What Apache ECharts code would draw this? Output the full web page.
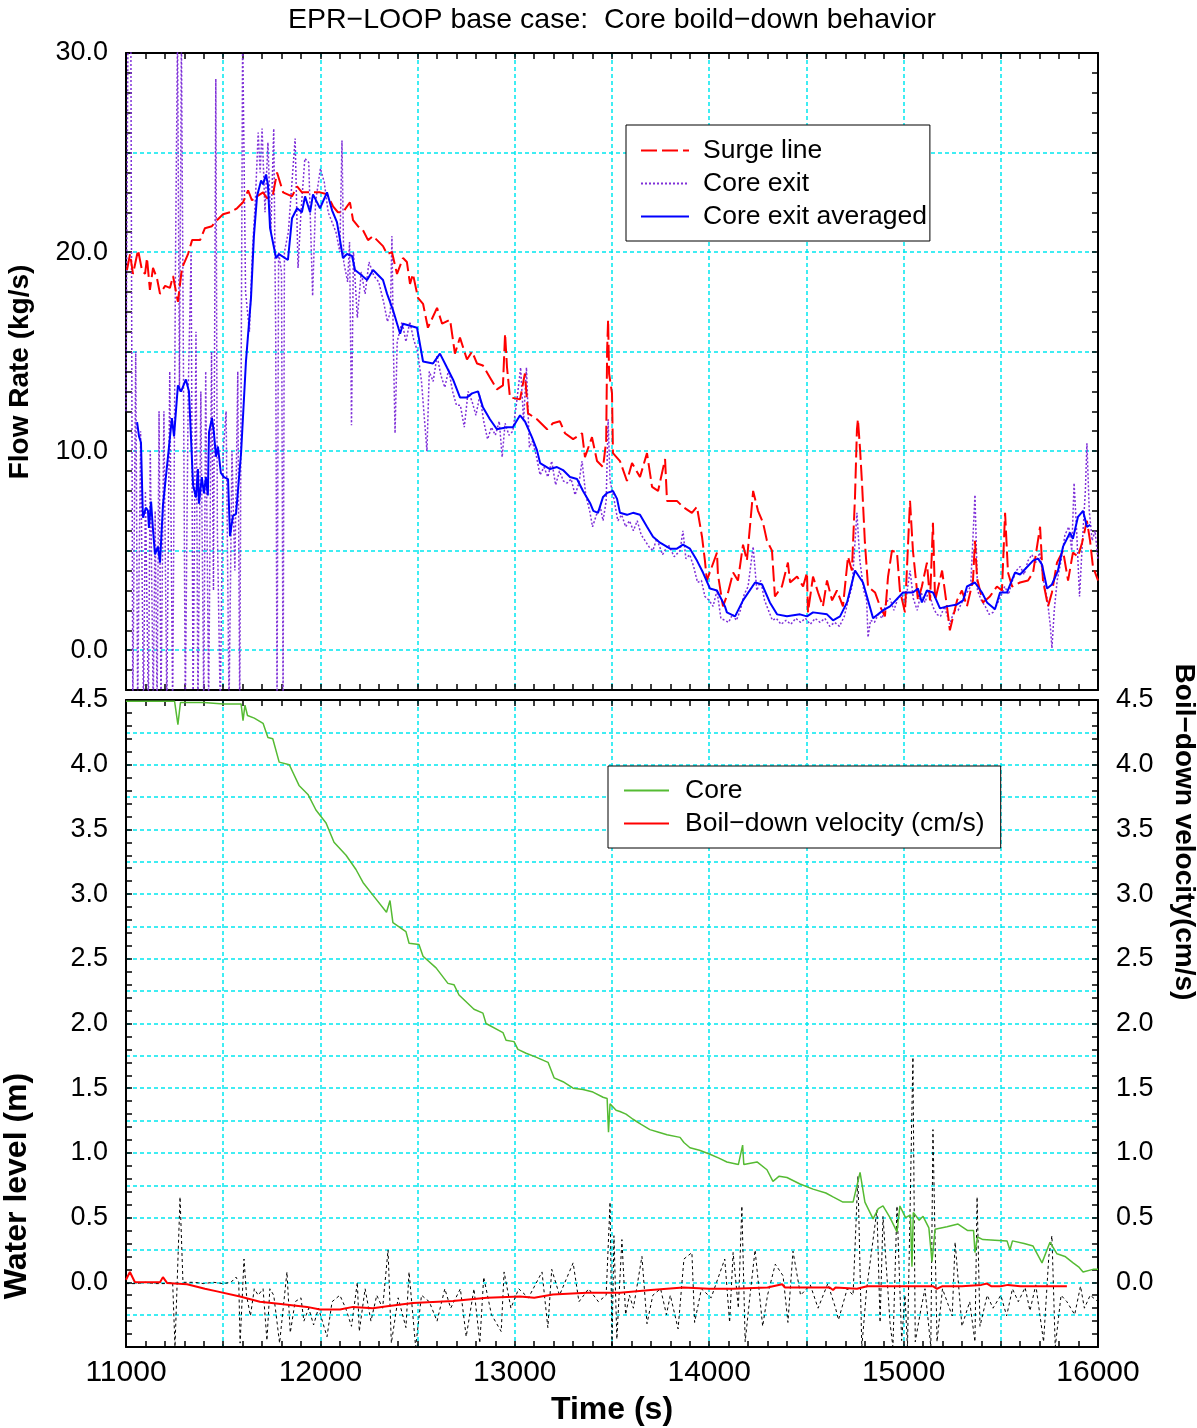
<!DOCTYPE html>
<html><head><meta charset="utf-8">
<script src="https://cdn.jsdelivr.net/npm/echarts@6/dist/echarts.min.js"></script>
<style>html,body{margin:0;padding:0;background:#fff}#c{width:1197px;height:1428px}</style>
</head><body><div id="c"></div>
<script>
// ---------- data ----------
const xTickLabels = [11000, 12000, 13000, 14000, 15000, 16000];
const surgeLine = [[11005,19.1],[11021,19.9],[11036,18.9],[11062,20.1],[11082,19.1],[11098,18.9],[11108,19.7],[11123,18.1],[11139,19.2],[11159,18.7],[11175,17.9],[11201,18.3],[11226,18.2],[11242,18.8],[11267,17.5],[11288,19.2],[11319,19.9],[11340,20.6],[11381,20.6],[11406,21.2],[11442,21.3],[11468,21.6],[11499,21.9],[11535,22.0],[11571,22.2],[11602,22.5],[11628,23.1],[11648,22.6],[11674,22.8],[11705,23.0],[11725,22.7],[11756,22.9],[11777,24.0],[11808,23.0],[11854,22.8],[11880,23.3],[11905,23.0],[11947,23.0],[11998,23.0],[12034,22.9],[12065,22.3],[12090,22.0],[12116,22.0],[12152,22.5],[12168,21.6],[12193,21.3],[12219,21.1],[12245,20.6],[12271,20.8],[12322,20.3],[12343,19.9],[12368,20.0],[12394,18.9],[12425,19.7],[12445,19.5],[12461,18.4],[12476,18.9],[12502,17.7],[12528,17.4],[12553,16.2],[12600,17.2],[12626,16.4],[12667,16.6],[12692,14.9],[12718,15.7],[12754,14.6],[12780,15.0],[12806,14.4],[12836,14.3],[12872,13.7],[12908,13.1],[12939,13.3],[12950,15.9],[12960,14.2],[12975,12.7],[13027,12.6],[13052,13.9],[13068,11.9],[13114,11.6],[13166,11.1],[13196,11.4],[13232,11.5],[13258,10.9],[13300,10.6],[13346,10.9],[13361,9.7],[13397,10.7],[13423,9.5],[13454,9.2],[13470,10.5],[13475,15.1],[13480,16.6],[13485,13.9],[13500,12.9],[13505,9.9],[13541,9.5],[13577,8.5],[13603,9.4],[13644,8.7],[13680,9.9],[13706,8.2],[13737,8.0],[13773,9.6],[13783,7.5],[13834,7.5],[13865,7.2],[13911,6.9],[13937,7.2],[13963,5.7],[13978,4.5],[13988,3.5],[14040,4.9],[14045,3.8],[14071,2.2],[14097,2.9],[14123,3.9],[14148,3.5],[14174,5.3],[14194,4.5],[14226,8.0],[14251,7.0],[14277,6.4],[14297,5.5],[14323,5.0],[14338,2.7],[14374,3.2],[14405,4.4],[14416,3.4],[14452,3.7],[14483,3.2],[14503,3.9],[14508,1.9],[14534,3.7],[14560,2.9],[14585,2.2],[14606,3.5],[14632,2.5],[14657,3.0],[14688,2.2],[14714,4.7],[14734,4.0],[14750,7.7],[14760,11.1],[14765,11.6],[14776,10.1],[14786,8.4],[14801,5.4],[14817,3.2],[14853,2.9],[14879,2.2],[14904,1.7],[14920,3.7],[14940,5.0],[14966,4.9],[14981,3.0],[15007,1.9],[15033,7.5],[15048,5.0],[15074,2.5],[15094,3.2],[15120,4.4],[15136,2.5],[15151,6.4],[15162,2.5],[15198,4.0],[15223,2.2],[15238,1.0],[15275,2.5],[15300,3.0],[15326,2.2],[15357,3.5],[15367,5.5],[15378,3.6],[15408,2.4],[15444,2.7],[15480,3.2],[15506,3.0],[15522,6.9],[15537,3.9],[15558,3.2],[15599,3.4],[15640,3.5],[15666,3.9],[15702,6.2],[15717,3.5],[15743,2.2],[15763,2.9],[15789,4.4],[15820,5.0],[15846,3.5],[15871,4.9],[15897,4.7],[15918,5.4],[15943,6.5],[15959,5.5],[15974,4.2],[16000,3.5]];

const coreExit = [[11000,12],[11010,31],[11025,31],[11035,-3],[11050,15],[11060,-3],[11075,11],[11090,-3],[11100,8],[11115,-3],[11125,10],[11140,-3],[11150,7],[11160,-3],[11170,12],[11180,-3],[11195,12],[11210,-3],[11225,14],[11240,-3],[11255,20],[11265,31],[11275,13],[11285,31],[11295,15],[11305,-3],[11320,13],[11335,20],[11345,-3],[11360,16],[11370,-3],[11385,13],[11400,-3],[11410,14],[11425,-3],[11440,15],[11450,3],[11462,28.7],[11470,6],[11485,-3],[11500,10],[11515,12],[11530,-3],[11545,10],[11560,4],[11575,14],[11585,-3],[11600,31],[11615,18],[11635,16],[11650,20],[11665,22.5],[11680,26],[11690,24],[11700,26.2],[11715,22],[11730,25.5],[11745,21],[11760,26.2],[11770,16],[11777,-3],[11785,20],[11800,19],[11808,-3],[11815,20],[11835,21],[11850,23],[11870,25.7],[11885,19.2],[11900,22],[11920,24.7],[11940,24.5],[11960,17.8],[11975,22.5],[12000,24.2],[12020,23.5],[12040,22],[12060,21.5],[12080,21],[12100,20],[12111,25.6],[12120,19.5],[12140,18.5],[12150,20.5],[12160,11.3],[12170,20],[12190,16.7],[12210,19],[12230,17.9],[12250,19.5],[12275,18.8],[12300,18.5],[12325,17.5],[12345,16.5],[12360,17],[12368,20.8],[12375,15.5],[12384,10.9],[12395,15.5],[12420,16.5],[12440,15.5],[12460,16.5],[12480,15.6],[12500,15],[12520,13.5],[12548,10.0],[12560,14],[12580,13.5],[12600,14.8],[12620,13.8],[12640,13.2],[12660,14.1],[12680,13.0],[12700,12.3],[12720,12.3],[12740,11.2],[12760,13],[12780,12.5],[12800,11.8],[12820,12.8],[12840,11.5],[12860,10.6],[12880,11.2],[12900,10.8],[12920,11.5],[12935,9.7],[12950,11.4],[12970,10.8],[12990,11],[13010,12.5],[13030,14.2],[13045,11.5],[13060,14.2],[13075,10.2],[13090,10.5],[13110,9.8],[13130,8.8],[13150,9.2],[13170,8.7],[13190,9.5],[13210,8.3],[13230,9.0],[13250,8.5],[13270,8.4],[13290,8.6],[13310,7.8],[13330,8.4],[13346,9.5],[13365,7.8],[13385,7.0],[13400,6.2],[13420,6.8],[13440,7.2],[13454,6.5],[13470,7.5],[13480,11.6],[13490,8.5],[13510,7.6],[13530,6.5],[13550,6.8],[13570,6.2],[13590,6.5],[13610,6.0],[13630,6.5],[13650,5.8],[13670,5.5],[13690,5.2],[13710,5.0],[13730,5.6],[13760,4.8],[13790,5.3],[13820,4.7],[13850,5.0],[13865,6.0],[13880,4.6],[13900,4.8],[13920,4.2],[13940,3.4],[13960,3.5],[13978,2.7],[14000,2.5],[14020,2.2],[14040,3.0],[14060,1.6],[14080,1.5],[14100,1.4],[14120,1.8],[14140,1.5],[14160,2.0],[14180,2.8],[14200,3.2],[14226,5.2],[14245,3.0],[14265,3.5],[14285,2.5],[14305,2.0],[14325,1.5],[14345,1.6],[14370,1.3],[14395,1.5],[14420,1.3],[14445,1.6],[14470,1.4],[14495,1.6],[14520,1.3],[14545,1.6],[14570,1.4],[14595,1.6],[14620,1.2],[14645,1.4],[14670,1.2],[14695,1.7],[14715,2.5],[14735,3.2],[14760,6.9],[14775,4.5],[14795,3.0],[14810,2.5],[14817,0.65],[14830,1.5],[14850,1.4],[14870,1.8],[14890,1.6],[14910,2.4],[14930,2.6],[14950,2.0],[14970,2.6],[14990,2.8],[15010,2.4],[15033,4.0],[15050,2.6],[15070,2.0],[15090,2.9],[15110,2.4],[15130,3.0],[15150,2.2],[15170,1.8],[15190,1.7],[15210,2.2],[15238,1.3],[15260,2.0],[15280,2.0],[15300,2.4],[15320,2.8],[15345,3.2],[15367,7.8],[15380,3.0],[15400,2.5],[15420,2.2],[15440,1.8],[15460,1.9],[15480,2.3],[15500,2.7],[15520,3.2],[15540,2.8],[15560,3.5],[15580,4.0],[15600,4.2],[15620,3.8],[15640,4.5],[15660,4.8],[15680,4.4],[15700,4.9],[15720,3.5],[15740,2.5],[15755,1.2],[15763,0.1],[15775,2.0],[15790,3.5],[15810,4.5],[15830,5.8],[15850,6.2],[15865,5.0],[15877,8.4],[15890,6.0],[15905,2.7],[15920,5.5],[15935,8.0],[15943,10.4],[15955,7.0],[15970,5.5],[15985,6.0],[16000,4.5]];

const coreExitAvg = [[11057,11.46],[11067,10.74],[11077,10.43],[11087,6.65],[11103,7.16],[11113,7.0],[11118,6.14],[11129,7.47],[11139,6.04],[11149,4.81],[11164,5.2],[11175,4.4],[11190,7.26],[11216,9.72],[11236,11.66],[11247,10.74],[11267,13.3],[11283,12.99],[11308,13.6],[11324,12.99],[11345,8.29],[11360,7.67],[11370,9.1],[11375,7.36],[11390,8.69],[11401,7.88],[11411,8.69],[11421,7.77],[11427,10.95],[11442,11.66],[11452,10.95],[11463,9.72],[11473,10.23],[11488,8.9],[11504,8.69],[11525,8.59],[11535,5.73],[11550,6.75],[11566,6.85],[11592,9.92],[11617,14.5],[11643,17.7],[11658,20.8],[11674,22.8],[11695,23.6],[11705,23.4],[11720,23.9],[11730,23.4],[11741,21.2],[11772,19.7],[11787,19.9],[11833,19.6],[11854,21.7],[11880,22.2],[11905,22.0],[11921,22.8],[11947,22.0],[11962,22.9],[11998,22.2],[12034,23.0],[12060,22.1],[12085,21.5],[12101,20.6],[12116,19.7],[12137,19.9],[12163,19.8],[12178,19.1],[12204,18.9],[12240,18.6],[12271,19.1],[12322,18.6],[12343,17.9],[12373,17.1],[12410,15.9],[12425,16.4],[12461,16.3],[12497,16.2],[12528,14.5],[12579,14.4],[12615,14.9],[12651,14.2],[12682,13.6],[12718,12.7],[12754,12.7],[12780,12.9],[12811,13.0],[12836,12.2],[12872,11.6],[12908,11.1],[12960,11.2],[12990,11.2],[13027,11.8],[13052,11.5],[13088,10.7],[13114,10.05],[13130,9.4],[13181,9.1],[13217,9.2],[13248,9.05],[13284,8.7],[13320,8.6],[13351,8.0],[13387,7.4],[13404,7.0],[13428,6.9],[13454,7.7],[13475,7.9],[13505,8.0],[13526,7.6],[13541,6.9],[13577,6.8],[13608,6.9],[13644,6.8],[13680,6.2],[13711,5.7],[13747,5.4],[13799,5.1],[13834,5.1],[13865,5.3],[13901,5.1],[13937,4.5],[13968,3.9],[14004,3.1],[14040,3.0],[14081,2.2],[14091,1.9],[14133,1.7],[14174,2.5],[14236,3.4],[14272,3.3],[14312,2.4],[14349,1.8],[14400,1.7],[14467,1.8],[14503,1.7],[14534,1.9],[14606,1.8],[14637,1.5],[14673,1.7],[14709,2.4],[14750,4.0],[14791,3.4],[14843,1.6],[14894,2.0],[14930,2.2],[14997,2.9],[15048,2.9],[15074,3.1],[15094,2.4],[15120,3.0],[15151,2.9],[15187,2.1],[15223,2.2],[15275,2.3],[15306,2.5],[15326,3.2],[15367,3.4],[15403,2.9],[15429,2.4],[15470,2.06],[15496,2.9],[15532,2.9],[15573,3.9],[15599,3.8],[15666,4.5],[15692,4.6],[15712,4.3],[15738,3.1],[15763,3.3],[15794,4.0],[15820,5.2],[15856,5.9],[15871,5.6],[15897,6.7],[15923,7.0],[15943,6.2],[15960,6.3]];

const coreLevel = [[11000,4.49],[11250,4.49],[11267,4.31],[11280,4.48],[11400,4.48],[11500,4.47],[11592,4.47],[11602,4.34],[11612,4.46],[11625,4.38],[11660,4.36],[11705,4.32],[11730,4.21],[11755,4.2],[11788,4.02],[11840,4.0],[11890,3.84],[11936,3.77],[11977,3.65],[12029,3.55],[12070,3.40],[12132,3.30],[12183,3.19],[12219,3.09],[12271,2.99],[12340,2.86],[12358,2.95],[12373,2.78],[12440,2.71],[12456,2.62],[12507,2.61],[12528,2.52],[12595,2.43],[12656,2.31],[12687,2.30],[12713,2.22],[12790,2.11],[12836,2.08],[12852,2.0],[12939,1.93],[12955,1.87],[12996,1.86],[13016,1.80],[13058,1.77],[13109,1.74],[13171,1.70],[13202,1.58],[13248,1.55],[13300,1.50],[13351,1.49],[13402,1.47],[13454,1.43],[13475,1.42],[13482,1.16],[13490,1.38],[13521,1.33],[13541,1.32],[13572,1.30],[13608,1.26],[13650,1.22],[13695,1.18],[13740,1.16],[13783,1.14],[13850,1.12],[13870,1.08],[13901,1.04],[13950,1.02],[14004,0.99],[14050,0.96],[14091,0.93],[14150,0.91],[14172,1.06],[14178,0.91],[14246,0.93],[14297,0.87],[14328,0.78],[14360,0.82],[14400,0.81],[14467,0.76],[14534,0.72],[14600,0.69],[14637,0.66],[14688,0.62],[14740,0.62],[14776,0.85],[14801,0.62],[14843,0.49],[14870,0.57],[14894,0.59],[14930,0.50],[14966,0.39],[14981,0.59],[15010,0.50],[15035,0.52],[15043,0.12],[15050,0.54],[15080,0.48],[15100,0.51],[15130,0.42],[15146,0.16],[15162,0.41],[15223,0.43],[15280,0.45],[15330,0.40],[15360,0.40],[15367,0.23],[15380,0.35],[15408,0.33],[15532,0.32],[15547,0.25],[15560,0.32],[15620,0.30],[15666,0.28],[15712,0.15],[15730,0.22],[15753,0.31],[15789,0.22],[15830,0.20],[15872,0.15],[15900,0.12],[15923,0.08],[15974,0.10],[16000,0.10]];

const boilVelocity = [[11000,0.02],[11020,0.08],[11046,0.0],[11100,0.0],[11175,0.0],[11190,0.04],[11211,-0.005],[11314,-0.015],[11406,-0.05],[11468,-0.07],[11586,-0.11],[11689,-0.15],[11808,-0.17],[11931,-0.19],[11998,-0.21],[12101,-0.21],[12168,-0.19],[12270,-0.2],[12343,-0.185],[12476,-0.16],[12682,-0.145],[12857,-0.12],[13027,-0.11],[13100,-0.12],[13196,-0.095],[13371,-0.08],[13541,-0.08],[13700,-0.06],[13866,-0.04],[14000,-0.05],[14123,-0.05],[14300,-0.04],[14375,-0.015],[14390,-0.04],[14500,-0.04],[14620,-0.04],[14637,-0.06],[14650,-0.04],[14760,-0.05],[14812,-0.03],[14900,-0.03],[15000,-0.03],[15150,-0.03],[15172,-0.05],[15200,-0.03],[15300,-0.03],[15400,-0.02],[15429,-0.01],[15450,-0.03],[15500,-0.03],[15537,-0.02],[15600,-0.03],[15700,-0.03],[15840,-0.03]];

const boilRaw = [[11000,-0.01],[11050,-0.01],[11100,0.0],[11150,-0.01],[11200,-0.01],[11240,0.0],[11252,-0.5],[11270,0.3],[11278,0.66],[11293,0.0],[11350,0.0],[11400,-0.01],[11450,0.0],[11500,-0.01],[11540,0.0],[11566,0.04],[11580,0.0],[11587,-0.47],[11607,0.18],[11620,-0.1],[11640,-0.26],[11660,-0.05],[11680,-0.1],[11705,-0.05],[11725,-0.45],[11740,-0.05],[11760,-0.1],[11790,-0.47],[11828,0.08],[11845,-0.39],[11870,-0.15],[11900,-0.12],[11915,-0.3],[11940,-0.2],[11965,-0.33],[11990,-0.2],[12034,-0.42],[12060,-0.15],[12100,-0.1],[12130,-0.2],[12160,-0.34],[12190,0.0],[12200,-0.38],[12230,-0.05],[12260,-0.3],[12290,-0.1],[12320,-0.2],[12348,0.25],[12365,-0.47],[12400,-0.12],[12440,-0.35],[12456,0.08],[12490,-0.5],[12520,-0.1],[12560,-0.15],[12600,-0.3],[12640,-0.05],[12670,-0.2],[12720,-0.05],[12750,-0.42],[12790,-0.05],[12820,-0.47],[12840,0.04],[12880,-0.25],[12930,-0.38],[12945,0.08],[12980,-0.2],[13020,-0.05],[13070,-0.12],[13140,0.08],[13170,-0.35],[13190,0.1],[13230,-0.1],[13300,0.15],[13330,-0.15],[13380,-0.05],[13430,-0.15],[13470,-0.1],[13490,0.62],[13500,-0.5],[13510,0.36],[13525,-0.44],[13551,0.33],[13570,-0.25],[13590,-0.1],[13610,-0.2],[13654,0.2],[13680,-0.32],[13710,-0.1],[13750,-0.05],[13780,-0.25],[13800,-0.1],[13840,-0.36],[13870,0.18],[13911,0.23],[13925,-0.31],[13960,-0.05],[14010,-0.12],[14080,0.18],[14105,-0.31],[14123,0.23],[14150,-0.2],[14168,0.59],[14185,-0.46],[14210,-0.1],[14236,0.25],[14275,-0.34],[14300,-0.1],[14340,0.14],[14380,0.05],[14405,-0.31],[14431,0.24],[14470,-0.1],[14520,-0.02],[14560,-0.2],[14610,-0.01],[14650,-0.2],[14665,-0.29],[14710,-0.05],[14740,-0.1],[14765,0.82],[14785,-0.5],[14810,-0.05],[14863,0.56],[14879,-0.31],[14894,0.51],[14930,-0.31],[14945,-0.5],[14966,0.59],[14990,-0.45],[15007,-0.1],[15020,-0.5],[15048,1.74],[15060,-0.46],[15090,-0.2],[15110,-0.05],[15140,-0.5],[15151,1.18],[15172,-0.46],[15200,-0.05],[15250,-0.26],[15265,0.31],[15300,-0.34],[15340,-0.15],[15367,-0.46],[15378,0.66],[15393,-0.34],[15430,-0.1],[15460,-0.2],[15500,-0.1],[15530,-0.26],[15560,-0.05],[15590,-0.15],[15625,-0.04],[15650,-0.22],[15680,-0.02],[15720,-0.46],[15747,0.2],[15763,0.36],[15780,-0.5],[15810,-0.1],[15840,-0.15],[15880,-0.25],[15910,-0.03],[15930,-0.2],[15960,-0.1],[16000,-0.15]];

// ---------- styles ----------
const FONT = '"Liberation Sans", Arial, Helvetica, sans-serif';
const CYAN = '#00e8f0';
const BLACK = '#000';
const tickStyle = {color: BLACK, width: 1.5};
const lineAx = {show: true, onZero: false, lineStyle: {color: BLACK, width: 2}};
const gridDash = {color: CYAN, width: 1.5, type: [4, 3]};
const TR = 'rgba(0,0,0,0)';

function xAx(grid, pos, labels, split) {
  return {
    type: 'value', gridIndex: grid, position: pos, min: 11000, max: 16000, interval: 500,
    axisLine: lineAx,
    axisTick: {show: true, inside: true, length: 6, lineStyle: tickStyle},
    minorTick: {show: true, splitNumber: 5, length: 6, lineStyle: tickStyle},
    splitLine: {show: split, lineStyle: gridDash},
    axisLabel: labels ? {
      show: true, margin: 11, color: BLACK, fontFamily: FONT, fontSize: 30,
      showMinLabel: true, showMaxLabel: true,
      formatter: v => (xTickLabels.indexOf(Math.round(v)) >= 0 ? String(Math.round(v)) : '')
    } : {show: false}
  };
}

const option = {
  animation: false,
  backgroundColor: '#fff',
  grid: [
    {left: 126, top: 53, width: 972, height: 637},
    {left: 126, top: 700, width: 972, height: 647}
  ],
  xAxis: [
    xAx(0, 'bottom', false, true),
    xAx(0, 'top', false, false),
    xAx(1, 'bottom', true, true),
    xAx(1, 'top', false, false)
  ],
  yAxis: [
    { // 0: top-left
      type: 'value', gridIndex: 0, position: 'left', min: -2, max: 30, interval: 1,
      axisLine: lineAx,
      axisTick: {show: true, inside: true, length: 6, lineStyle: tickStyle},
      splitLine: {show: true, lineStyle: {color: [TR, TR, CYAN, TR, TR], width: 1.5, type: [4, 3]}},
      axisLabel: {show: true, margin: 18, color: BLACK, fontFamily: FONT, fontSize: 27,
        showMinLabel: true, showMaxLabel: true,
        formatter: v => { const r = Math.round(v); return (r >= 0 && r % 10 === 0) ? r.toFixed(1) : ''; }}
    },
    { // 1: top-right
      type: 'value', gridIndex: 0, position: 'right', min: -2, max: 30, interval: 1,
      axisLine: lineAx,
      axisTick: {show: true, inside: true, length: 6, lineStyle: tickStyle},
      splitLine: {show: false}, axisLabel: {show: false}
    },
    { // 2: bottom-left (data)
      type: 'value', gridIndex: 1, position: 'left', min: -0.5, max: 4.5, interval: 0.1,
      axisLine: lineAx,
      axisTick: {show: true, inside: true, length: 6, lineStyle: tickStyle},
      splitLine: {show: false},
      axisLabel: {show: true, margin: 18, color: BLACK, fontFamily: FONT, fontSize: 27,
        showMinLabel: true, showMaxLabel: true,
        formatter: v => { const r = Math.round(v * 10); return (r > -4 && r % 5 === 0) ? (r / 10).toFixed(1) : ''; }}
    },
    { // 3: bottom grid lines
      type: 'value', gridIndex: 1, position: 'left', min: -0.5, max: 4.5, interval: 0.25,
      axisLine: {show: false}, axisTick: {show: false}, axisLabel: {show: false},
      splitLine: {show: true, lineStyle: gridDash}
    },
    { // 4: bottom-right
      type: 'value', gridIndex: 1, position: 'right', min: -0.5, max: 4.5, interval: 0.1,
      axisLine: lineAx,
      axisTick: {show: true, inside: true, length: 6, lineStyle: tickStyle},
      splitLine: {show: false},
      axisLabel: {show: true, margin: 18, color: BLACK, fontFamily: FONT, fontSize: 27,
        showMinLabel: true, showMaxLabel: true,
        formatter: v => { const r = Math.round(v * 10); return (r > -4 && r % 5 === 0) ? (r / 10).toFixed(1) : ''; }}
    }
  ],
  legend: [
    {
      data: ['Surge line', 'Core exit', 'Core exit averaged'],
      orient: 'vertical', left: 626, top: 125,
      padding: [12, 3, 11, 14], itemGap: 6, itemWidth: 48, itemHeight: 14,
      itemStyle: {opacity: 0},
      backgroundColor: '#fff', borderColor: '#000', borderWidth: 1, borderRadius: 0,
      textStyle: {color: BLACK, fontFamily: FONT, fontSize: 26.5, lineHeight: 26, padding: [0, 0, 0, 9]},
      selectedMode: false
    },
    {
      data: ['Core', 'Boil\u2212down velocity (cm/s)'],
      orient: 'vertical', left: 608, top: 766,
      padding: [11, 16, 11, 15], itemGap: 6, itemWidth: 45, itemHeight: 14,
      itemStyle: {opacity: 0},
      backgroundColor: '#fff', borderColor: '#000', borderWidth: 1, borderRadius: 0,
      textStyle: {color: BLACK, fontFamily: FONT, fontSize: 26.5, lineHeight: 26, padding: [0, 0, 0, 11]},
      selectedMode: false
    }
  ],
  series: [
    {name: 'Core exit', type: 'line', xAxisIndex: 0, yAxisIndex: 0, data: coreExit,
     showSymbol: false, symbol: 'none', clip: true, color: '#7f30d8',
     lineStyle: {color: '#7f30d8', width: 1.5, type: [2, 2]}},
    {name: 'Surge line', type: 'line', xAxisIndex: 0, yAxisIndex: 0, data: surgeLine,
     showSymbol: false, symbol: 'none', clip: true, color: '#ff0000',
     lineStyle: {color: '#ff0000', width: 2, type: [16, 5]}},
    {name: 'Core exit averaged', type: 'line', xAxisIndex: 0, yAxisIndex: 0, data: coreExitAvg,
     showSymbol: false, symbol: 'none', clip: true, color: '#0000ff',
     lineStyle: {color: '#0000ff', width: 2}},
    {name: 'raw velocity', type: 'line', xAxisIndex: 2, yAxisIndex: 2, data: boilRaw,
     showSymbol: false, symbol: 'none', clip: true, color: '#000',
     lineStyle: {color: '#000', width: 1, type: [3, 3]}},
    {name: 'Core', type: 'line', xAxisIndex: 2, yAxisIndex: 2, data: coreLevel,
     showSymbol: false, symbol: 'none', clip: true, color: '#55bb33',
     lineStyle: {color: '#55bb33', width: 1.5}},
    {name: 'Boil\u2212down velocity (cm/s)', type: 'line', xAxisIndex: 2, yAxisIndex: 2, data: boilVelocity,
     showSymbol: false, symbol: 'none', clip: true, color: '#ff0000',
     lineStyle: {color: '#ff0000', width: 2}}
  ],
  graphic: [
    {type: 'text', x: 612, y: 20, style: {text: 'EPR\u2212LOOP base case:  Core boild\u2212down behavior',
      font: '28.5px ' + FONT, fill: BLACK, align: 'center', verticalAlign: 'middle'}},
    {type: 'text', x: 20, y: 372, rotation: Math.PI / 2, style: {text: 'Flow Rate (kg/s)',
      font: 'bold 28px ' + FONT, fill: BLACK, align: 'center', verticalAlign: 'middle'}},
    {type: 'text', x: 17, y: 1186, rotation: Math.PI / 2, style: {text: 'Water level (m)',
      font: 'bold 32px ' + FONT, fill: BLACK, align: 'center', verticalAlign: 'middle'}},
    {type: 'text', x: 1184, y: 832, rotation: -Math.PI / 2, style: {text: 'Boil\u2212down velocity(cm/s)',
      font: 'bold 28px ' + FONT, fill: BLACK, align: 'center', verticalAlign: 'middle'}},
    {type: 'text', x: 612, y: 1410, style: {text: 'Time (s)',
      font: 'bold 32px ' + FONT, fill: BLACK, align: 'center', verticalAlign: 'middle'}}
  ]
};
const chart = echarts.init(document.getElementById('c'), null, {renderer: 'canvas'});
chart.setOption(option);
</script>
</body></html>
